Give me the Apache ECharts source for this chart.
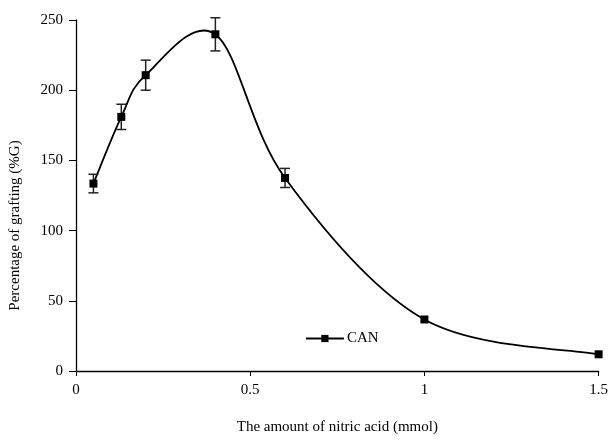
<!DOCTYPE html>
<html>
<head>
<meta charset="UTF-8">
<title>Grafting vs nitric acid</title>
<script src="https://cdn.jsdelivr.net/npm/echarts@6/dist/echarts.min.js"></script>
<style>
  html, body { margin: 0; padding: 0; background: #fff; }
  #chart { width: 611px; height: 440px; }
</style>
</head>
<body>
<div id="chart"></div>
<script>
// values
var acidAmount = [0.05, 0.13, 0.2, 0.4, 0.6, 1.0, 1.5];
var grafting   = [133.5, 181, 210.7, 239.8, 137.5, 36.7, 11.9];
var errorBar   = [6.6, 9, 10.7, 11.8, 6.8, 0, 0];
var xTicks = [0, 0.5, 1, 1.5];
var yTicks = [0, 50, 100, 150, 200, 250];

var serif = 'Liberation Serif';

var lineData = acidAmount.map(function (x, i) { return [x, grafting[i]]; });
var errData = acidAmount.map(function (x, i) {
  return [x, grafting[i] - errorBar[i], grafting[i] + errorBar[i]];
}).filter(function (d) { return d[2] > d[1]; });

// spreadsheet-style smoothed curve through the points (pixel space, via api.coord)
function renderCurve(params, api) {
  var p = lineData.map(function (d) { return api.coord(d); });
  var n = p.length, kids = [];
  for (var i = 0; i < n - 1; i++) {
    var a = p[Math.max(i - 1, 0)], b = p[i], c = p[i + 1], d = p[Math.min(i + 2, n - 1)];
    kids.push({
      type: 'bezierCurve',
      shape: {
        x1: b[0], y1: b[1], x2: c[0], y2: c[1],
        cpx1: b[0] + (c[0] - a[0]) / 6, cpy1: b[1] + (c[1] - a[1]) / 6,
        cpx2: c[0] - (d[0] - b[0]) / 6, cpy2: c[1] - (d[1] - b[1]) / 6
      },
      style: { stroke: '#000', lineWidth: 1.8, fill: null }
    });
  }
  return { type: 'group', children: kids };
}

var chart = echarts.init(document.getElementById('chart'));
chart.setOption({
  animation: false,
  backgroundColor: '#fff',
  grid: { left: 76, right: 9, top: 20, bottom: 68 },
  legend: {
    left: 300, top: 326,
    itemWidth: 38, itemHeight: 9, itemGap: 0,
    lineStyle: { color: '#000', width: 1.8, opacity: 1 },
    textStyle: { fontFamily: serif, fontSize: 15, color: '#000', padding: [0, 0, 0, -2] },
    data: ['CAN']
  },
  xAxis: {
    type: 'value', min: 0, max: 1.5, interval: 0.5,
    name: 'The amount of nitric acid (mmol)',
    nameLocation: 'middle', nameGap: 49,
    nameTextStyle: { fontFamily: serif, fontSize: 15, color: '#000' },
    axisLine: { lineStyle: { color: '#000', width: 1.3 } },
    axisTick: { show: true, length: 5, lineStyle: { color: '#000' } },
    axisLabel: {
      fontFamily: serif, fontSize: 15, color: '#000', margin: 12,
      formatter: function (v) { return xTicks.indexOf(v) >= 0 ? String(v) : ''; }
    },
    splitLine: { show: false }
  },
  yAxis: {
    type: 'value', min: 0, max: 250, interval: 50,
    name: 'Percentage of grafting (%G)',
    nameLocation: 'middle', nameGap: 53,
    nameTextStyle: { fontFamily: serif, fontSize: 15, color: '#000', padding: [0, 60, 0, 0] },
    axisLine: { show: true, lineStyle: { color: '#000', width: 1.3 } },
    axisTick: { show: true, length: 7, lineStyle: { color: '#000' } },
    axisLabel: {
      fontFamily: serif, fontSize: 15, color: '#000', margin: 13,
      formatter: function (v) { return yTicks.indexOf(v) >= 0 ? String(v) : ''; }
    },
    splitLine: { show: false }
  },
  series: [
    {
      name: 'curve',
      type: 'custom',
      data: [0],
      z: 1,
      silent: true,
      renderItem: renderCurve
    },
    {
      name: 'CAN',
      type: 'line',
      data: lineData,
      symbol: 'rect',
      symbolSize: 8,
      itemStyle: { color: '#000' },
      lineStyle: { color: '#000', width: 0, opacity: 0 },
      z: 3
    },
    {
      name: 'err',
      type: 'custom',
      data: errData,
      z: 2,
      renderItem: function (params, api) {
        var lo = api.coord([api.value(0), api.value(1)]);
        var hi = api.coord([api.value(0), api.value(2)]);
        var w = 5;
        var st = { stroke: '#222', lineWidth: 1.5, fill: null };
        return {
          type: 'group',
          children: [
            { type: 'line', shape: { x1: lo[0], y1: lo[1], x2: hi[0], y2: hi[1] }, style: st },
            { type: 'line', shape: { x1: lo[0] - w, y1: lo[1], x2: lo[0] + w, y2: lo[1] }, style: st },
            { type: 'line', shape: { x1: hi[0] - w, y1: hi[1], x2: hi[0] + w, y2: hi[1] }, style: st }
          ]
        };
      }
    }
  ]
});
</script>
</body>
</html>
